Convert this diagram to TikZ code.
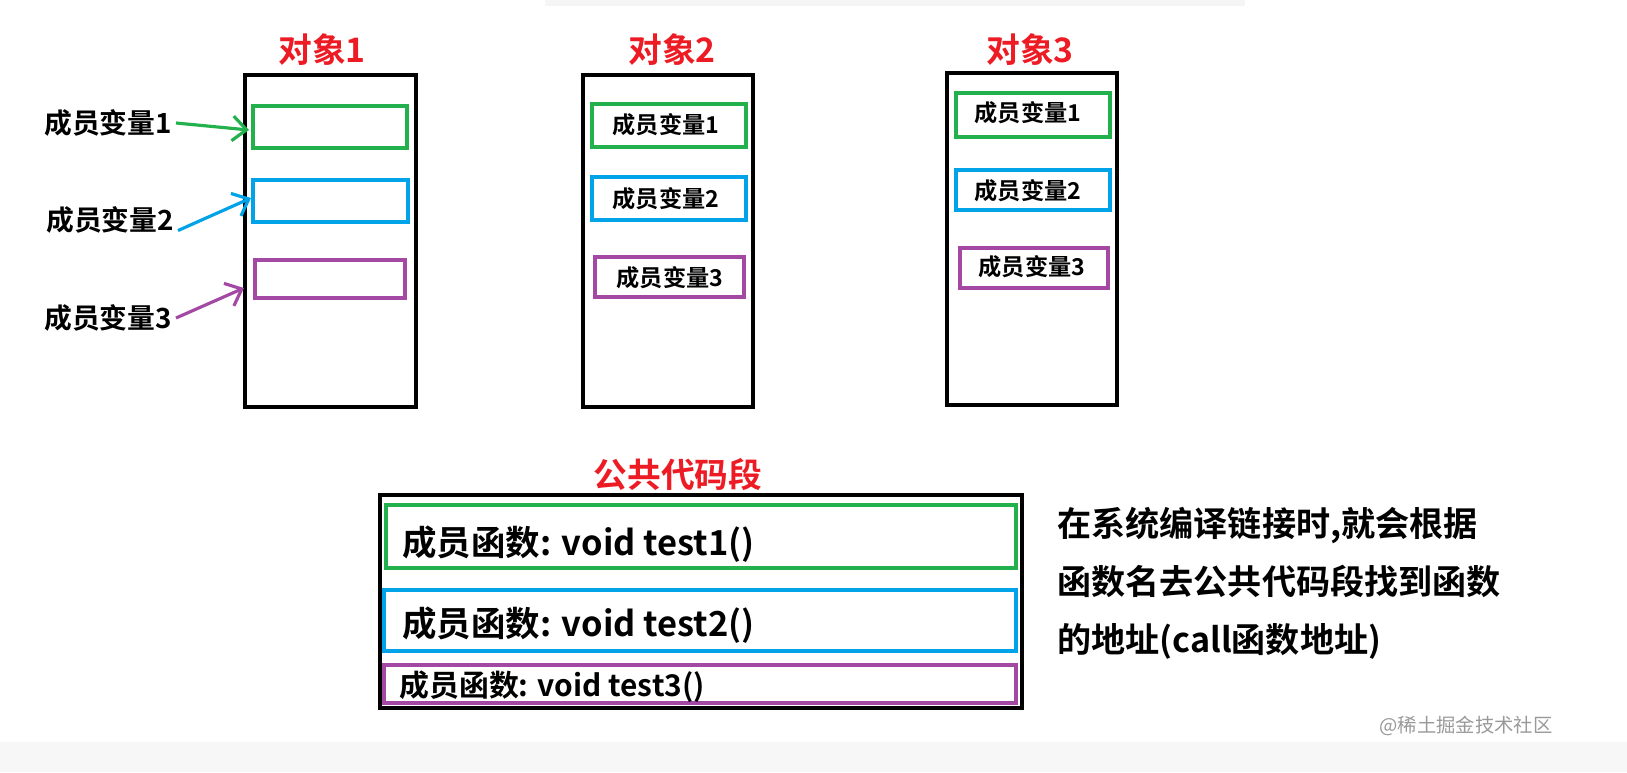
\documentclass[tikz,border=0pt]{standalone}
\usepackage{fontspec}
\setmainfont{Noto Sans CJK SC}[BoldFont={* Bold}]
\newfontfamily\cjk{Noto Sans CJK SC}
\usetikzlibrary{arrows.meta}
\definecolor{cg}{RGB}{34,177,76}
\definecolor{cb}{RGB}{0,162,232}
\definecolor{cp}{RGB}{163,73,164}
\definecolor{cr}{RGB}{237,28,36}
\tikzset{
 obj/.style={draw=black,line width=1.2pt},
 mem/.style={line width=0.9pt},
 ttl/.style={text=cr,font=\fontsize{9.6}{11}\selectfont\bfseries},
 lbl/.style={font=\fontsize{7.9}{9}\selectfont\bfseries,inner sep=1pt},
 ilbl/.style={font=\fontsize{6.6}{8}\selectfont\bfseries},
 clbl/.style={font=\fontsize{9.8}{11}\selectfont\bfseries,anchor=west},
 arr/.style={line width=0.9pt,-{Straight Barb[length=4pt,width=7pt]}},
}
\begin{document}
\begin{tikzpicture}[x=0.01cm,y=-0.01cm]
\useasboundingbox (0,0) rectangle (1627,772);
\fill[black!3] (0,742) rectangle (1627,772);
\fill[black!4] (545,0) rectangle (1245,6);
% object 1
\node[ttl] (t1) at (322,50) {对象1};
\draw[obj] (245,75) rectangle (416,407);
\draw[mem,draw=cg] (253,106) rectangle (407,148);
\draw[mem,draw=cb] (253,180) rectangle (408,222);
\draw[mem,draw=cp] (255,260) rectangle (405,298);
\node[lbl] (l1) at (108,123) {成员变量1};
\node[lbl] (l2) at (110,220) {成员变量2};
\node[lbl] (l3) at (108,318) {成员变量3};
\coordinate (a1) at (249,130);
\coordinate (a2) at (251,198);
\coordinate (a3) at (244,288);
\draw[arr,draw=cg] (l1.east) -- (a1);
\draw[arr,draw=cb] ([yshift=-3pt]l2.east) -- (a2);
\draw[arr,draw=cp] (l3.east) -- (a3);
% object 2
\node[ttl] (t2) at (672,50) {对象2};
\draw[obj] (583,75) rectangle (753,407);
\draw[mem,draw=cg] (592,104) rectangle (746,147);
\node[ilbl] (m21) at (666,125) {成员变量1};
\draw[mem,draw=cb] (592,177) rectangle (746,220);
\node[ilbl] (m22) at (666,199) {成员变量2};
\draw[mem,draw=cp] (595,257) rectangle (744,297);
\node[ilbl] (m23) at (670,278) {成员变量3};
% object 3
\node[ttl] (t3) at (1030,50) {对象3};
\draw[obj] (947,73) rectangle (1117,405);
\draw[mem,draw=cg] (956,93) rectangle (1110,137);
\node[ilbl] (m31) at (1028,113) {成员变量1};
\draw[mem,draw=cb] (956,170) rectangle (1110,210);
\node[ilbl] (m32) at (1028,191) {成员变量2};
\draw[mem,draw=cp] (960,248) rectangle (1108,288);
\node[ilbl] (m33) at (1032,267) {成员变量3};
% code segment
\node[ttl] (t4) at (678,475) {公共代码段};
\draw[obj] (380,495) rectangle (1022,708);
\draw[mem,draw=cg] (386,505) rectangle (1016,568);
\node[clbl] (c1) at (390,544) {成员函数: void test1()};
\draw[mem,draw=cb] (384,590) rectangle (1016,651);
\node[clbl] (c2) at (390,625) {成员函数: void test2()};
\draw[mem,draw=cp] (384,665) rectangle (1016,703);
\node[clbl,font=\fontsize{8.5}{9}\selectfont\bfseries] (c3) at (387,687) {成员函数: void test3()};
% right text
\node[anchor=north west,align=left,font=\fontsize{9.7}{16.4}\selectfont\bfseries] (note) at (1045,495) {在系统编译链接时,就会根据\\函数名去公共代码段找到函数\\的地址(call函数地址)};
\node[anchor=east,text=black!40,font=\fontsize{5.5}{6}\selectfont] (wm) at (1565,726) {@稀土掘金技术社区};
\end{tikzpicture}
\end{document}
